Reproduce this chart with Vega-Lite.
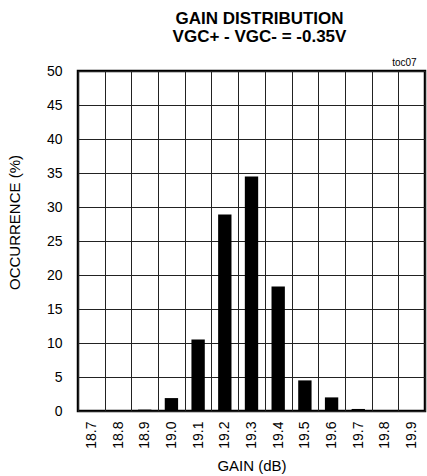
{
  "$schema": "https://vega.github.io/schema/vega-lite/v6.json",
  "width": 347,
  "height": 340,
  "autosize": {"type": "none"},
  "padding": {"left": 78, "top": 71, "right": 2, "bottom": 65},
  "background": "white",
  "config": {
    "font": "Liberation Sans",
    "view": {"stroke": "black", "strokeWidth": 2.5},
    "axis": {
      "labelFont": "Liberation Sans",
      "titleFont": "Liberation Sans",
      "labelColor": "black",
      "titleColor": "black",
      "labelFontSize": 14,
      "titleFontSize": 15,
      "titleFontWeight": "normal",
      "labelOverlap": false,
      "domain": false,
      "ticks": false,
      "gridColor": "#222",
      "gridOpacity": 1,
      "gridWidth": 1
    }
  },
  "title": {
    "text": ["GAIN DISTRIBUTION", "VGC+ - VGC- = -0.35V"],
    "font": "Liberation Sans",
    "fontSize": 17,
    "fontWeight": "bold",
    "color": "black",
    "anchor": "middle",
    "dx": 8,
    "offset": 12,
    "lineHeight": 18
  },
  "data": {
    "values": [
      {"gain": "18.7", "occurrence": 0},
      {"gain": "18.8", "occurrence": 0},
      {"gain": "18.9", "occurrence": 0.2},
      {"gain": "19.0", "occurrence": 1.9},
      {"gain": "19.1", "occurrence": 10.5},
      {"gain": "19.2", "occurrence": 28.9},
      {"gain": "19.3", "occurrence": 34.5},
      {"gain": "19.4", "occurrence": 18.3},
      {"gain": "19.5", "occurrence": 4.5},
      {"gain": "19.6", "occurrence": 2.0},
      {"gain": "19.7", "occurrence": 0.3},
      {"gain": "19.8", "occurrence": 0},
      {"gain": "19.9", "occurrence": 0}
    ]
  },
  "encoding": {
    "x": {
      "field": "gain",
      "type": "ordinal",
      "sort": null,
      "scale": {"paddingInner": 0, "paddingOuter": 0},
      "axis": {
        "title": "GAIN (dB)",
        "labelAngle": -90,
        "labelAlign": "right",
        "labelBaseline": "middle",
        "labelPadding": 10,
        "tickBand": "extent",
        "grid": true,
        "titlePadding": 10
      }
    },
    "y": {
      "field": "occurrence",
      "type": "quantitative",
      "scale": {"domain": [0, 50], "nice": false},
      "axis": {
        "title": "OCCURRENCE (%)",
        "values": [0, 5, 10, 15, 20, 25, 30, 35, 40, 45, 50],
        "labelPadding": 16,
        "grid": true,
        "titleX": -56,
        "titleY": 151
      }
    }
  },
  "layer": [
    {
      "mark": {"type": "bar", "color": "black", "width": {"band": 0.5}}
    },
    {
      "data": {"values": [{"gain": "19.9", "occurrence": 50, "label": "toc07"}]},
      "mark": {"type": "text", "align": "right", "baseline": "alphabetic", "dy": -5, "dx": 5, "fontSize": 10, "color": "black", "font": "Liberation Sans"},
      "encoding": {
        "text": {"field": "label"}
      }
    }
  ]
}
